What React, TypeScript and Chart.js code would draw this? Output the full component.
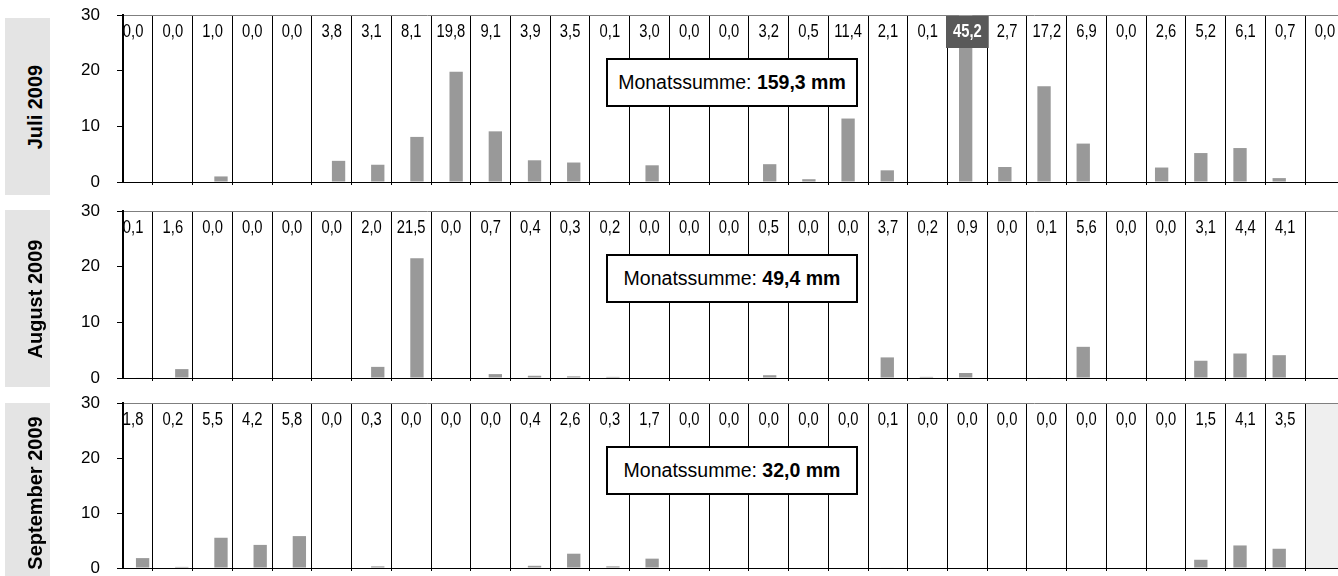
import React, { useEffect, useRef } from "react";
import { Chart, registerables } from "chart.js";

Chart.register(...registerables);

// ---- data ----
const dayLabels = [1, 2, 3, 4, 5, 6, 7, 8, 9, 10, 11, 12, 13, 14, 15, 16, 17, 18, 19, 20, 21, 22, 23, 24, 25, 26, 27, 28, 29, 30, 31];
const juliValues = [0.0, 0.0, 1.0, 0.0, 0.0, 3.8, 3.1, 8.1, 19.8, 9.1, 3.9, 3.5, 0.1, 3.0, 0.0, 0.0, 3.2, 0.5, 11.4, 2.1, 0.1, 45.2, 2.7, 17.2, 6.9, 0.0, 2.6, 5.2, 6.1, 0.7, 0.0];
const augustValues = [0.1, 1.6, 0.0, 0.0, 0.0, 0.0, 2.0, 21.5, 0.0, 0.7, 0.4, 0.3, 0.2, 0.0, 0.0, 0.0, 0.5, 0.0, 0.0, 3.7, 0.2, 0.9, 0.0, 0.1, 5.6, 0.0, 0.0, 3.1, 4.4, 4.1];
const septemberValues = [1.8, 0.2, 5.5, 4.2, 5.8, 0.0, 0.3, 0.0, 0.0, 0.0, 0.4, 2.6, 0.3, 1.7, 0.0, 0.0, 0.0, 0.0, 0.0, 0.1, 0.0, 0.0, 0.0, 0.0, 0.0, 0.0, 0.0, 1.5, 4.1, 3.5];
const monthNames = ["Juli 2009", "August 2009", "September 2009"];
const monthTotals = ["159,3 mm", "49,4 mm", "32,0 mm"];
const daysInMonth = [31, 31, 30];
const yTickValues = [0, 10, 20, 30];
const dividerValues = [1.5, 2.5, 3.5, 4.5, 5.5, 6.5, 7.5, 8.5, 9.5, 10.5, 11.5, 12.5, 13.5, 14.5, 15.5, 16.5, 17.5, 18.5, 19.5, 20.5, 21.5, 22.5, 23.5, 24.5, 25.5, 26.5, 27.5, 28.5, 29.5, 30.5];

const seriesList = [juliValues, augustValues, septemberValues];

// ---- layout ----
const panelTops = [15, 211, 403];
const panelBottoms = [182, 378, 568];
const sideBoxes = [
  { top: 18, height: 177 },
  { top: 210, height: 177 },
  { top: 403, height: 180 },
];
const PAD_TOP = 30;
const PAD_BOTTOM = 28;
const X2_HEIGHT = 3;
const X2_MIN = 0.745;
const X2_MAX = 31.33;

const fmt = (v: number) => v.toFixed(1).replace(".", ",");
const SANS = '"Liberation Sans", Arial, sans-serif';

function Panel({ idx }: { idx: number }) {
  const ref = useRef<HTMLCanvasElement | null>(null);
  const values = seriesList[idx];
  const monthDays = daysInMonth[idx];
  const top = panelTops[idx] - PAD_TOP;
  const height = panelBottoms[idx] - panelTops[idx] + PAD_TOP + PAD_BOTTOM + X2_HEIGHT;

  useEffect(() => {
    if (!ref.current) return;
    const yMax = yTickValues[yTickValues.length - 1];
    const plugin = {
      id: "rainLabels",
      beforeDraw(chart: any) {
        const { ctx, chartArea } = chart;
        const x2 = chart.scales.x2;
        if (monthDays < dayLabels.length) {
          const xs = x2.getPixelForValue(monthDays + 0.5);
          ctx.save();
          ctx.fillStyle = "#efefef";
          ctx.fillRect(xs, chartArea.top, chartArea.right - xs, chartArea.bottom - chartArea.top);
          ctx.restore();
        }
      },
      afterDatasetsDraw(chart: any) {
        const { ctx, chartArea } = chart;
        const x2 = chart.scales.x2;
        values.forEach((v, i) => {
          const x = x2.getPixelForValue(dayLabels[i]);
          const y = chartArea.top + 17;
          const text = fmt(v);
          ctx.save();
          ctx.textAlign = "center";
          ctx.textBaseline = "middle";
          if (v > yMax) {
            ctx.font = "bold 18px " + SANS;
            const w = ctx.measureText(text).width * 0.82 + 14;
            ctx.fillStyle = "#595959";
            ctx.fillRect(x - w / 2, chartArea.top + 1, w, 32);
            ctx.fillStyle = "#ffffff";
          } else {
            ctx.font = "18px " + SANS;
            ctx.fillStyle = "#000000";
          }
          ctx.translate(x, y);
          ctx.scale(0.82, 1);
          ctx.fillText(text, 0, 0);
          ctx.restore();
        });
      },
    };

    const chart = new Chart(ref.current, {
      type: "bar",
      data: {
        labels: dayLabels,
        datasets: [
          {
            data: values,
            backgroundColor: "#999999",
            borderWidth: 0,
            barPercentage: 0.34,
            categoryPercentage: 1,
            xAxisID: "x",
            yAxisID: "y",
          },
        ],
      },
      options: {
        animation: false,
        responsive: false,
        events: [],
        layout: { padding: { top: PAD_TOP, bottom: PAD_BOTTOM, left: 0, right: 0 } },
        plugins: { legend: { display: false }, tooltip: { enabled: false } },
        scales: {
          x: {
            type: "category",
            offset: true,
            weight: 0,
            grid: { display: false },
            ticks: { display: false },
            border: { display: true, color: "#000000", width: 1 },
            afterFit: (s: any) => {
              s.height = 0;
            },
          },
          x2: {
            type: "linear",
            position: "bottom",
            weight: 1,
            offset: false,
            bounds: "data",
            min: X2_MIN,
            max: X2_MAX,
            grid: {
              display: true,
              offset: false,
              color: "#000000",
              lineWidth: 1,
              drawTicks: true,
              tickLength: X2_HEIGHT,
              tickColor: "#000000",
            },
            border: { display: false },
            ticks: { display: false },
            afterDataLimits: (s: any) => {
              s.min = X2_MIN;
              s.max = X2_MAX;
            },
            afterBuildTicks: (s: any) => {
              s.min = X2_MIN;
              s.max = X2_MAX;
              s.ticks = dividerValues.map((v) => ({ value: v }));
            },
            afterFit: (s: any) => {
              s.height = X2_HEIGHT;
            },
          },
          y: {
            min: 0,
            max: yMax,
            afterBuildTicks: (s: any) => {
              s.ticks = yTickValues.map((v) => ({ value: v }));
            },
            ticks: { color: "#000000", font: { family: SANS, size: 17 }, padding: 17 },
            grid: {
              drawOnChartArea: true,
              color: (c: any) => (c.tick && c.tick.value === yMax ? "#7f7f7f" : "rgba(0,0,0,0)"),
              tickColor: "#000000",
              tickLength: 6,
              lineWidth: 1,
            },
            border: { display: true, color: "#000000", width: 2 },
            afterFit: (s: any) => {
              s.width = 123;
            },
          },
        },
      } as any,
      plugins: [plugin],
    });
    return () => chart.destroy();
  }, []);

  return (
    <canvas
      ref={ref}
      width={1338}
      height={height}
      style={{ position: "absolute", left: 0, top, width: 1338, height, display: "block" }}
    />
  );
}

export default function App() {
  return (
    <div
      style={{
        position: "fixed",
        left: 0,
        top: 0,
        width: 1338,
        height: 576,
        overflow: "hidden",
        background: "#ffffff",
      }}
    >
      {monthNames.map((_, i) => (
        <Panel key={"p" + i} idx={i} />
      ))}
      {monthNames.map((name, i) => (
        <div
          key={"s" + i}
          style={{
            position: "absolute",
            left: 5,
            top: sideBoxes[i].top,
            width: 45,
            height: sideBoxes[i].height,
            background: "#e4e4e4",
          }}
        >
          <span
            style={{
              position: "absolute",
              left: 30,
              top: "50%",
              transform: "translate(-50%, -50%) rotate(-90deg)",
              whiteSpace: "nowrap",
              lineHeight: "20px",
              fontFamily: SANS,
              fontWeight: "bold",
              fontSize: 20,
              color: "#000",
            }}
          >
            {name}
          </span>
        </div>
      ))}
      {monthTotals.map((t, i) => (
        <div
          key={"m" + i}
          style={{
            position: "absolute",
            left: 606,
            top: panelTops[i] + 43,
            width: 248,
            height: 45,
            border: "2px solid #000",
            background: "#ffffff",
            display: "flex",
            alignItems: "center",
            justifyContent: "center",
            fontFamily: SANS,
            fontSize: 19.5,
            color: "#000",
            whiteSpace: "nowrap",
          }}
        >
          <span>
            Monatssumme: <b>{t}</b>
          </span>
        </div>
      ))}
    </div>
  );
}
